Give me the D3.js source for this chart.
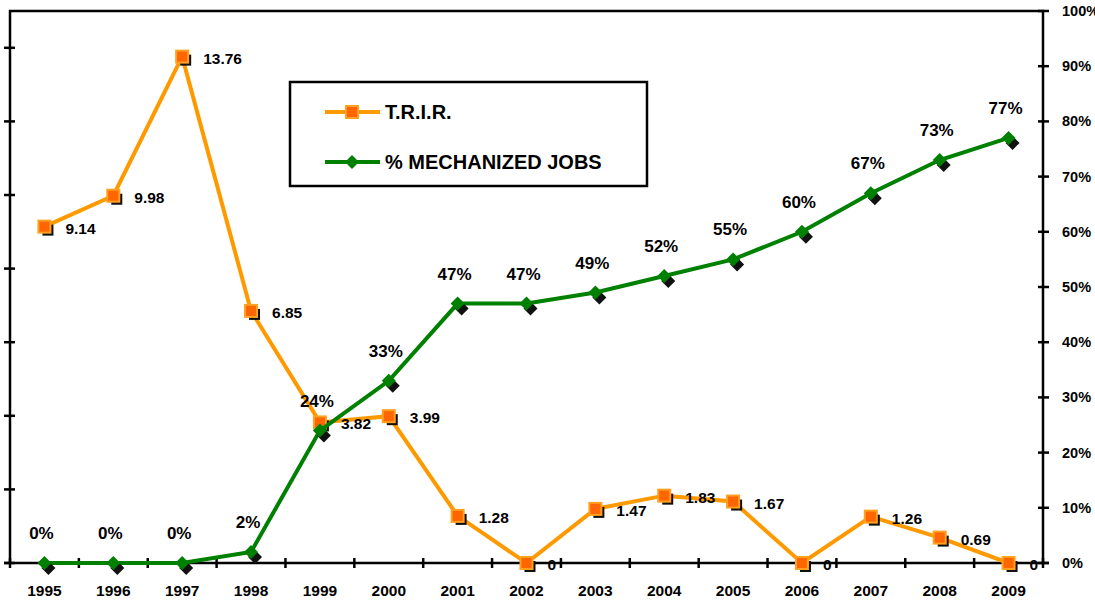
<!DOCTYPE html>
<html>
<head>
<meta charset="utf-8">
<script src="https://cdn.jsdelivr.net/npm/d3@7"></script>
<style>
  body { margin: 0; background: #fff; }
  text { font-family: "Liberation Sans", Arial, sans-serif; font-weight: bold; fill: #000; }
</style>
</head>
<body>
<script>
var years = ['1995', '1996', '1997', '1998', '1999', '2000', '2001', '2002', '2003', '2004', '2005', '2006', '2007', '2008', '2009'];
var trir = [9.14, 9.98, 13.76, 6.85, 3.82, 3.99, 1.28, 0, 1.47, 1.83, 1.67, 0, 1.26, 0.69, 0];
var mechanized = [0, 0, 0, 0.02, 0.24, 0.33, 0.47, 0.47, 0.49, 0.52, 0.55, 0.60, 0.67, 0.73, 0.77];
var leftTicks = [0, 2, 4, 6, 8, 10, 12, 14];
var rightTicks = [0, 0.1, 0.2, 0.3, 0.4, 0.5, 0.6, 0.7, 0.8, 0.9, 1];

var width = 1095, height = 606;
var plotLeft = 10, plotRight = 1043, plotTop = 11, plotBottom = 563;

var svg = d3.select('body').append('svg')
  .attr('width', width)
  .attr('height', height);

var x = d3.scaleBand().domain(years).range([plotLeft, plotRight]);
var y = d3.scaleLinear().domain([0, 15]).range([plotBottom, plotTop]);
var y2 = d3.scaleLinear().domain([0, 1]).range([plotBottom, plotTop]);
var cx = function(d, i) { return x(years[i]) + x.bandwidth() / 2; };

// frame
svg.append('path')
  .attr('d', 'M' + plotLeft + ',' + plotBottom + 'V' + plotTop + 'H' + plotRight + 'V' + plotBottom)
  .attr('fill', 'none')
  .attr('stroke', '#000')
  .attr('stroke-width', 2.5);

// x axis with cross ticks
var xAxis = svg.append('g');
xAxis.append('line')
  .attr('x1', plotLeft - 6).attr('x2', plotRight + 6)
  .attr('y1', plotBottom).attr('y2', plotBottom)
  .attr('stroke', '#000').attr('stroke-width', 2.5);
xAxis.selectAll('.xt')
  .data(years.concat(['end']))
  .enter().append('line')
    .attr('x1', function(d) { return d == 'end' ? plotRight : x(d); })
    .attr('x2', function(d) { return d == 'end' ? plotRight : x(d); })
    .attr('y1', plotBottom - 5).attr('y2', plotBottom + 5)
    .attr('stroke', '#000').attr('stroke-width', 2.5);
xAxis.selectAll('.xl')
  .data(years)
  .enter().append('text')
    .attr('x', function(d) { return x(d) + x.bandwidth() / 2; })
    .attr('y', 596)
    .attr('text-anchor', 'middle')
    .style('font-size', '15.5px')
    .text(function(d) { return d; });

// left axis ticks (no labels)
svg.append('g').selectAll('line')
  .data(leftTicks)
  .enter().append('line')
    .attr('x1', plotLeft - 6).attr('x2', plotLeft + 5)
    .attr('y1', function(d) { return y(d); })
    .attr('y2', function(d) { return y(d); })
    .attr('stroke', '#000').attr('stroke-width', 2.5);

// right axis
var rAxis = svg.append('g');
rAxis.selectAll('line')
  .data(rightTicks)
  .enter().append('line')
    .attr('x1', plotRight - 5).attr('x2', plotRight + 6)
    .attr('y1', function(d) { return y2(d); })
    .attr('y2', function(d) { return y2(d); })
    .attr('stroke', '#000').attr('stroke-width', 2.5);
rAxis.selectAll('text')
  .data(rightTicks)
  .enter().append('text')
    .attr('x', 1062)
    .attr('y', function(d) { return y2(d) + 5; })
    .style('font-size', '14.5px')
    .text(function(d) { return Math.round(d * 100) + '%'; });

// T.R.I.R. series
var lineT = d3.line()
  .x(function(d, i) { return cx(d, i); })
  .y(function(d) { return y(d); });
svg.append('path')
  .datum(trir)
  .attr('d', lineT)
  .attr('fill', 'none')
  .attr('stroke', '#ff9900')
  .attr('stroke-width', 4);
svg.append('g').selectAll('rect')
  .data(trir)
  .enter().append('rect')
    .attr('x', function(d, i) { return cx(d, i) - 2; })
    .attr('y', function(d) { return y(d) - 2; })
    .attr('width', 11).attr('height', 11)
    .attr('fill', '#111');
svg.append('g').selectAll('rect')
  .data(trir)
  .enter().append('rect')
    .attr('x', function(d, i) { return cx(d, i) - 6; })
    .attr('y', function(d) { return y(d) - 6; })
    .attr('width', 12).attr('height', 12)
    .attr('fill', '#ff6600')
    .attr('stroke', '#ffa020')
    .attr('stroke-width', 2);
svg.append('g').selectAll('text')
  .data(trir)
  .enter().append('text')
    .attr('x', function(d, i) { return cx(d, i) + 21; })
    .attr('y', function(d) { return y(d) + 7; })
    .style('font-size', '15.5px')
    .text(function(d) { return d == 0 ? '0' : d3.format('.2f')(d); });

// % mechanized series
var lineM = d3.line()
  .x(function(d, i) { return cx(d, i); })
  .y(function(d) { return y2(d); });
var diamond = function(r) { return 'M0,' + (-r) + 'L' + r + ',0L0,' + r + 'L' + (-r) + ',0Z'; };
svg.append('path')
  .datum(mechanized)
  .attr('d', lineM)
  .attr('fill', 'none')
  .attr('stroke', '#008000')
  .attr('stroke-width', 4);
svg.append('g').selectAll('path')
  .data(mechanized)
  .enter().append('path')
    .attr('d', diamond(7))
    .attr('transform', function(d, i) { return 'translate(' + (cx(d, i) + 4) + ',' + (y2(d) + 5) + ')'; })
    .attr('fill', '#111');
svg.append('g').selectAll('path')
  .data(mechanized)
  .enter().append('path')
    .attr('d', diamond(7))
    .attr('transform', function(d, i) { return 'translate(' + cx(d, i) + ',' + y2(d) + ')'; })
    .attr('fill', '#008000');
svg.append('g').selectAll('text')
  .data(mechanized)
  .enter().append('text')
    .attr('x', function(d, i) { return cx(d, i) - 3; })
    .attr('y', function(d) { return y2(d) - 24; })
    .attr('text-anchor', 'middle')
    .style('font-size', '17px')
    .text(function(d) { return Math.round(d * 100) + '%'; });

// legend
var legend = svg.append('g');
legend.append('rect')
  .attr('x', 290).attr('y', 82)
  .attr('width', 357).attr('height', 104)
  .attr('fill', '#fff')
  .attr('stroke', '#000')
  .attr('stroke-width', 2.5);
legend.append('line')
  .attr('x1', 325).attr('x2', 380).attr('y1', 112).attr('y2', 112)
  .attr('stroke', '#ff9900').attr('stroke-width', 4);
legend.append('rect')
  .attr('x', 346).attr('y', 106).attr('width', 12).attr('height', 12)
  .attr('fill', '#ff6600').attr('stroke', '#ffa020').attr('stroke-width', 2);
legend.append('text')
  .attr('x', 385).attr('y', 119)
  .style('font-size', '20px')
  .text('T.R.I.R.');
legend.append('line')
  .attr('x1', 325).attr('x2', 380).attr('y1', 162).attr('y2', 162)
  .attr('stroke', '#008000').attr('stroke-width', 4);
legend.append('path')
  .attr('d', diamond(7))
  .attr('transform', 'translate(352,162)')
  .attr('fill', '#008000');
legend.append('text')
  .attr('x', 385).attr('y', 169)
  .style('font-size', '20px')
  .text('% MECHANIZED JOBS');
</script>
</body>
</html>
